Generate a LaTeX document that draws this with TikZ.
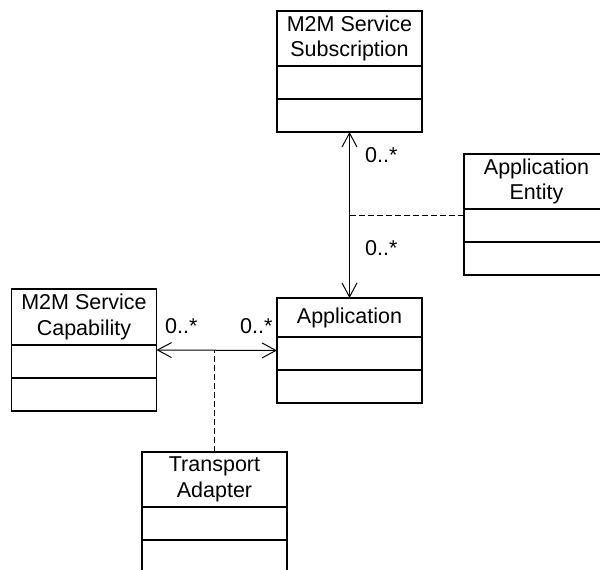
\documentclass[tikz,border=0pt]{standalone}
\usepackage{fontspec}
\setmainfont{Liberation Sans}
\usetikzlibrary{arrows.meta, positioning, calc}
\newcommand{\testo}{\fontsize{21.5}{25.5}\selectfont}

\begin{document}
\begin{tikzpicture}[x = 1pt, y = -1pt,
    titolo/.style = {draw, line width = 1.8pt, outer sep = 0pt, inner sep = 0pt,
        minimum width = 145pt, minimum height = 55pt, align = center, font = \testo},
    scomparto/.style = {draw, line width = 1.8pt, outer sep = 0pt, inner sep = 0pt,
        minimum width = 145pt, minimum height = 33pt},
    assoc/.style = {line width = 1pt, {Straight Barb[length = 14pt, width = 15pt]}-{Straight Barb[length = 14pt, width = 15pt]}},
    tratteggio/.style = {line width = 1pt, dash pattern = on 6pt off 3pt},
    molt/.style = {anchor = base west, inner sep = 0pt, font = \testo}]
    \useasboundingbox (0,0) rectangle (600,570);
    % Classe M2M Service Subscription
    \node[titolo, anchor = north] (sub) at (349.5,11) {M2M Service\\Subscription};
    \node[scomparto, below = 0pt of sub] (sub1) {};
    \node[scomparto, below = 0pt of sub1] (sub2) {};
    % Classe Application Entity
    \node[titolo, anchor = north] (ent) at (536.5,154) {Application\\Entity};
    \node[scomparto, below = 0pt of ent] (ent1) {};
    \node[scomparto, below = 0pt of ent1] (ent2) {};
    % Classe Application
    \node[titolo, anchor = north, minimum height = 39pt] (app) at (349.5,298) {Application};
    \node[scomparto, below = 0pt of app] (app1) {};
    \node[scomparto, below = 0pt of app1] (app2) {};
    % Classe M2M Service Capability
    \node[titolo, anchor = north, minimum height = 56pt] (cap) at (84,289) {M2M Service\\Capability};
    \node[scomparto, below = 0pt of cap] (cap1) {};
    \node[scomparto, below = 0pt of cap1] (cap2) {};
    % Classe Transport Adapter
    \node[titolo, anchor = north] (tra) at (214.5,452) {Transport\\Adapter};
    \node[scomparto, below = 0pt of tra] (tra1) {};
    \node[scomparto, below = 0pt of tra1] (tra2) {};
    % Associazione verticale
    \draw[assoc] (sub2.south) -- (app.north);
    \coordinate (m1) at ($(sub2.south)!0.5!(app.north)$);
    \draw[tratteggio] (m1) -- (m1 -| ent.west);
    \node[molt] (msub) at (365,162) {0..*};
    \node[molt] (mapp) at (365,255) {0..*};
    % Associazione orizzontale
    \coordinate (capmid) at ($(cap.north east)!0.5!(cap2.south east)$);
    \coordinate (appmid) at ($(app.north west)!0.5!(app2.south west)$);
    \draw[assoc] (capmid) -- (appmid);
    \draw[tratteggio] (tra.north) -- (tra.north |- capmid);
    \node[molt] (mcap) at (165,333) {0..*};
    \node[molt] (mapp2) at (240,333) {0..*};
\end{tikzpicture}
\end{document}
